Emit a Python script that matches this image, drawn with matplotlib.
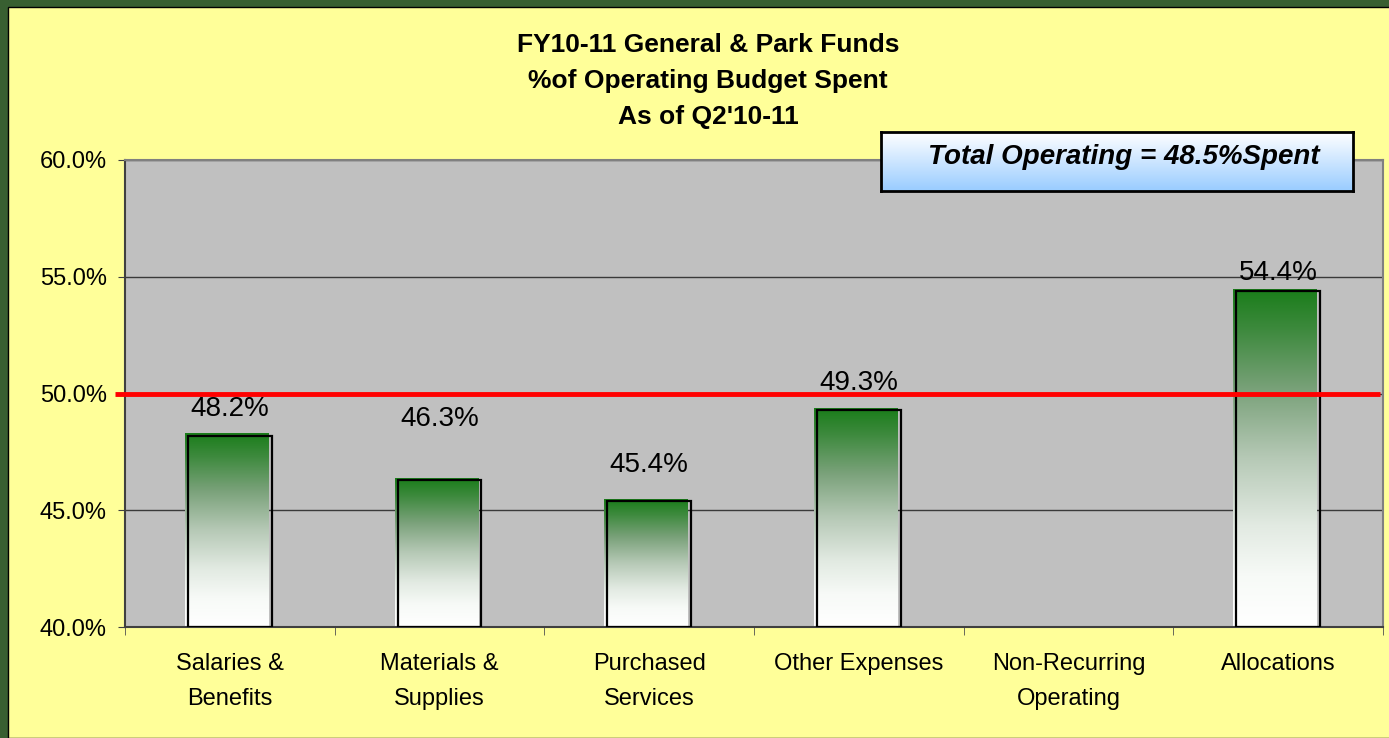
import numpy as np
import matplotlib.pyplot as plt
from matplotlib.colors import LinearSegmentedColormap
from matplotlib.patches import Rectangle

plt.rcParams['font.family'] = ['Liberation Sans', 'DejaVu Sans']

# data
categories = ['Salaries &\nBenefits', 'Materials &\nSupplies', 'Purchased\nServices',
              'Other Expenses', 'Non-Recurring\nOperating', 'Allocations']
pct_spent = [48.2, 46.3, 45.4, 49.3, None, 54.4]
target = 50.0
total_spent = 48.5
y_ticks = [40, 45, 50, 55, 60]

# labels in the original were hand placed, so lift each one separately (px)
label_lift = [27, 61, 36, 27, 0, 18]

W, H = 1389, 738
fig = plt.figure(figsize=(W / 100, H / 100), dpi=100, facecolor='#385f31')
fig.patches.append(Rectangle((8 / W, 0), 1, 1 - 7 / H, transform=fig.transFigure,
                             facecolor='#ffff99', edgecolor='black', lw=1, zorder=-10))

ax = fig.add_axes([125 / W, 1 - 627 / H, 1258 / W, 467 / H])
ax.set_facecolor('#c0c0c0')

# bottom (white) to top (green), greyish in the middle like the excel fill
green = LinearSegmentedColormap.from_list('bar', [
    (0.0, '#ffffff'), (0.15, '#f7faf7'), (0.3, '#e2eae2'), (0.5, '#b6c9b6'),
    (0.7, '#7ba27b'), (0.88, '#3e8a3e'), (1.0, '#1a7d1a')])
grad = np.linspace(0, 1, 256).reshape(-1, 1)
bw = 0.4
x = np.arange(len(categories))
for i, v in enumerate(pct_spent):
    if v is None:
        continue
    ax.imshow(grad, cmap=green, origin='lower', aspect='auto', interpolation='bilinear',
              extent=[i - bw / 2 - 0.014, i + bw / 2 - 0.014, 40, v + 0.07], zorder=2)
    ax.add_patch(Rectangle((i - bw / 2, 40), bw, v - 40, fill=False,
                           edgecolor='black', lw=1.6, zorder=3))
    ax.annotate(f'{v:.1f}%', (i, v), xytext=(0, label_lift[i] * 0.72),
                textcoords='offset points', ha='center', va='center', fontsize=20)

# 50% target line
ax.plot([-0.5 - 10 / 209.7, 5.5 - 3 / 209.7], [target, target], color='red',
        lw=3.5, clip_on=False, zorder=4, solid_capstyle='butt')

ax.set_xlim(-0.5, 5.5)
ax.set_ylim(40, 60)
ax.set_yticks(y_ticks)
ax.set_yticklabels([f'{t:.1f}%' for t in y_ticks], fontsize=17)
ax.yaxis.grid(True, color='#3a3a3a', lw=1)
ax.set_axisbelow(True)
ax.tick_params(axis='y', length=5, pad=8, color='#404040')

ax.set_xticks(x)
ax.set_xticklabels(categories, fontsize=17, linespacing=1.75)
ax.set_xticks(np.arange(-0.5, 6, 1), minor=True)
ax.tick_params(axis='x', which='major', length=0, pad=19)
ax.tick_params(axis='x', which='minor', length=6, color='#505050')

for s in ['top', 'right']:
    ax.spines[s].set_color('#808080')
    ax.spines[s].set_linewidth(1.5)
for s in ['left', 'bottom']:
    ax.spines[s].set_color('#404040')
    ax.spines[s].set_linewidth(1.5)

title_lines = ['FY10-11 General & Park Funds', '%of Operating Budget Spent', "As of Q2'10-11"]
for k, line in enumerate(title_lines):
    fig.text(708 / W, 1 - (45 + 36 * k) / H, line, ha='center', va='center',
             fontsize=19, fontweight='bold')

# total box
bax = fig.add_axes([881 / W, 1 - 191 / H, 472 / W, 59 / H])
blue = LinearSegmentedColormap.from_list('box', ['#99ccff', 'white'])
bax.imshow(grad, cmap=blue, origin='lower', aspect='auto', extent=[0, 1, 0, 1])
bax.set_xlim(0, 1)
bax.set_ylim(0, 1)
bax.set_xticks([])
bax.set_yticks([])
for s in bax.spines.values():
    s.set_linewidth(2)
    s.set_color('black')
bax.text(0.515, 0.58, f'Total Operating = {total_spent}%Spent', ha='center', va='center',
         fontsize=20, fontweight='bold', fontstyle='italic')

fig.savefig('out.png', dpi=100, facecolor=fig.get_facecolor())
